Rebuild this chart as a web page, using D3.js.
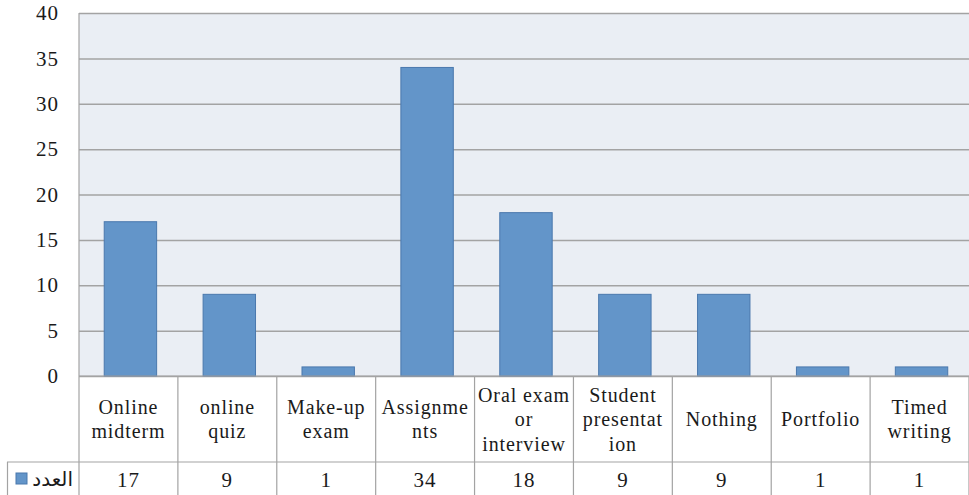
<!DOCTYPE html>
<html><head><meta charset="utf-8">
<script src="https://cdn.jsdelivr.net/npm/d3@7"></script>
<style>body{margin:0;background:#fff}svg{display:block}
.sf{font-family:"Liberation Serif","DejaVu Serif","Noto Serif",serif;}</style>
</head><body>
<svg id="c" width="969" height="495"></svg>
<script>
const categories = ["Online midterm","online quiz","Make-up exam","Assignments","Oral exam or interview","Student presentation","Nothing","Portfolio","Timed writing"];
const categoryLines = [["Online","midterm"],["online","quiz"],["Make-up","exam"],["Assignme","nts"],["Oral exam","or","interview"],["Student","presentat","ion"],["Nothing"],["Portfolio"],["Timed","writing"]];
const values = [17,9,1,34,18,9,9,1,1];
const seriesName = "العدد";
const yTicks = [0,5,10,15,20,25,30,35,40];

const svg = d3.select("#c");
const L = 79, R = 969, T = 13, B = 376;
const rowSplit = 462, bottom = 495;
const gridC = "#a3a3a3";

const x = d3.scaleBand().domain(categories).range([L, R]);
const y = d3.scaleLinear().domain([0, 40]).range([B, T]);
const bw = x.bandwidth();

svg.append("rect").attr("x", L).attr("y", T).attr("width", R - L).attr("height", B - T).attr("fill", "#eaeef4");

const grid = svg.append("g").attr("transform", `translate(${L},0)`)
  .call(d3.axisLeft(y).tickValues(yTicks).tickSize(-(R - L)).tickFormat(""));
grid.select(".domain").remove();
grid.selectAll("line").attr("stroke", gridC).attr("stroke-width", 1.5);

const ya = svg.append("g").attr("transform", `translate(${L},0)`)
  .call(d3.axisLeft(y).tickValues(yTicks).tickSize(0).tickPadding(20));
ya.select(".domain").remove();
ya.attr("font-family", null);
ya.selectAll("text").attr("class", "sf").attr("font-size", 21).attr("letter-spacing", 1).attr("fill", "#1a1a1a");

svg.append("g").selectAll("rect").data(categories).join("rect")
  .attr("x", d => x(d) + bw * 0.255)
  .attr("width", bw * 0.53)
  .attr("y", (d, i) => y(values[i]))
  .attr("height", (d, i) => y(0) - y(values[i]))
  .attr("fill", "#6395c9").attr("stroke", "#4a78ad").attr("stroke-width", 1);

const t = svg.append("g").attr("stroke", gridC).attr("stroke-width", 1.2);
t.append("line").attr("x1", L).attr("x2", L).attr("y1", T).attr("y2", bottom);
categories.forEach(c => {
  t.append("line").attr("x1", x(c) + bw).attr("x2", x(c) + bw).attr("y1", B).attr("y2", bottom);
});
t.append("line").attr("x1", 7).attr("x2", R).attr("y1", rowSplit).attr("y2", rowSplit);
t.append("line").attr("x1", 7.5).attr("x2", 7.5).attr("y1", rowSplit).attr("y2", bottom);
t.append("line").attr("x1", L).attr("x2", R).attr("y1", B).attr("y2", B);

const lh = 24.5;
categories.forEach((c, i) => {
  const lines = categoryLines[i];
  const cy = (B + rowSplit) / 2;
  const startY = cy - (lines.length - 1) * lh / 2;
  const tx = svg.append("text").attr("class", "sf").attr("text-anchor", "middle")
    .attr("font-size", 20).attr("letter-spacing", 0.9).attr("fill", "#1a1a1a");
  lines.forEach((ln, k) => {
    tx.append("tspan").attr("x", x(c) + bw / 2).attr("y", startY + k * lh).attr("dy", "0.35em").text(ln);
  });
});

svg.append("g").selectAll("text").data(categories).join("text")
  .attr("class", "sf")
  .attr("x", d => x(d) + bw / 2).attr("y", 480).attr("dy", "0.35em")
  .attr("text-anchor", "middle").attr("font-size", 21).attr("letter-spacing", 1).attr("fill", "#1a1a1a")
  .text((d, i) => values[i]);

svg.append("rect").attr("x", 16).attr("y", 473).attr("width", 11).attr("height", 11)
  .attr("fill", "#6395c9").attr("stroke", "#4a78ad");
svg.append("text").attr("x", 73).attr("y", 479).attr("dy", "0.35em").attr("text-anchor", "end")
  .attr("font-family", "'DejaVu Sans', 'Noto Sans', sans-serif").attr("font-size", 20).attr("fill", "#1a1a1a")
  .text(seriesName);
</script>
</body></html>
